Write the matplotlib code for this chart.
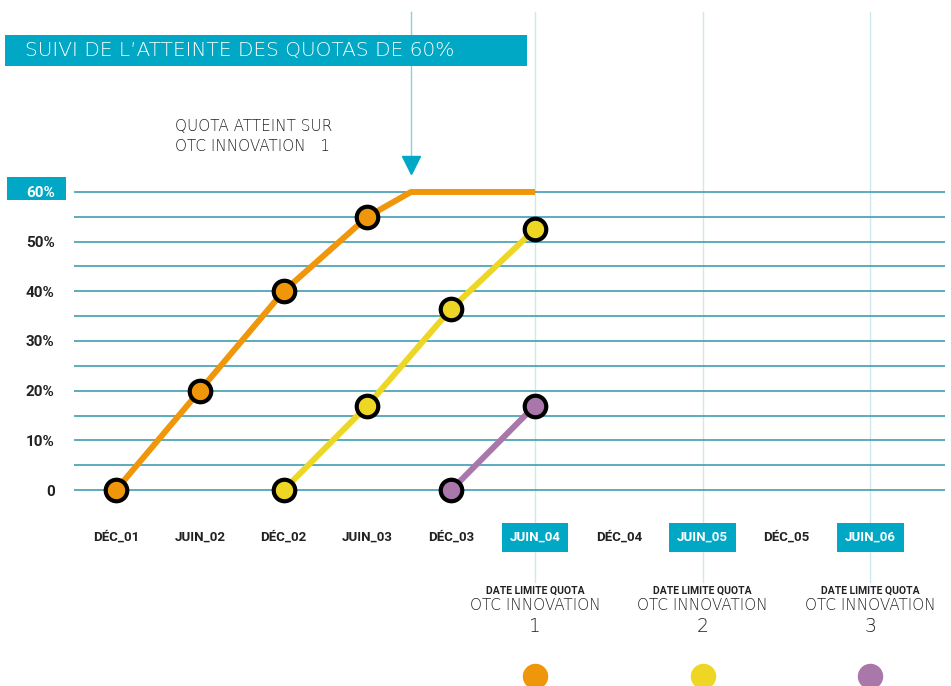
import matplotlib.pyplot as plt
import matplotlib.transforms as mtransforms
from matplotlib.patches import Rectangle

# periods on the x axis
periodes = ["DÉC_01", "JUIN_02", "DÉC_02", "JUIN_03", "DÉC_03",
            "JUIN_04", "DÉC_04", "JUIN_05", "DÉC_05", "JUIN_06"]
echeances = ["JUIN_04", "JUIN_05", "JUIN_06"]
numeros = ["1", "2", "3"]

# OTC innovation 1: measured points, then quota reached and held
otc1_x = [0, 1, 2, 3, 3.52, 5]
otc1_y = [0, 20, 40, 55, 60, 60]
otc1_mesures = 4

otc2_x = [2, 3, 4, 5]
otc2_y = [0, 17, 36.5, 52.5]

otc3_x = [4, 5]
otc3_y = [0, 17]

y_ticks = [0, 10, 20, 30, 40, 50, 60]
y_labels = ["0", "10%", "20%", "30%", "40%", "50%", "60%"]

couleurs = ["#f0960a", "#eed724", "#a977aa"]
TEAL = "#00a8c6"
GRID = "#3f9db3"
VLINE = "#cfe7ef"

W, H = 951, 686
fig = plt.figure(figsize=(W / 100, H / 100), dpi=100)


def fx(px):
    return px / W


def fy(py):
    return 1 - py / H


# axes area: gridlines from x=74 px, 0% at 490 px, 60% at 192 px
ax_top, ax_bot = 187, 495
ax = fig.add_axes([fx(74), fy(ax_bot), fx(945) - fx(74), (ax_bot - ax_top) / H])
ax.set_xlim(-0.501, 9.893)
ax.set_ylim(-1, 61)
for s in ax.spines.values():
    s.set_visible(False)


def axfrac(py):
    return (ax_bot - py) / (ax_bot - ax_top)


def boite(x0, y0, x1, y1, color, z=0.2):
    ax.add_patch(Rectangle((fx(x0), fy(y1)), fx(x1) - fx(x0), fy(y0) - fy(y1),
                           transform=fig.transFigure, fc=color, ec="none",
                           clip_on=False, zorder=z))


ax.set_yticks(y_ticks)
ax.set_yticks(range(5, 60, 10), minor=True)
ax.grid(axis="y", which="both", color=GRID, lw=1.2)
ax.tick_params(which="both", length=0)
ax.tick_params(axis="y", pad=14)
ax.tick_params(axis="x", pad=26)
ax.set_yticklabels(y_labels, fontfamily="Roboto", fontweight="bold", fontsize=11, color="#222222")
ax.get_yticklabels()[-1].set_color("white")
boite(7, 177, 66, 200, TEAL)

ax.set_xticks(range(len(periodes)))
ax.set_xticklabels(periodes, fontfamily="Roboto", fontweight="bold", fontsize=9.5, color="#222222")
for lab in ax.get_xticklabels():
    if lab.get_text() in echeances:
        lab.set_color("white")
        lab.set_bbox(dict(boxstyle="square,pad=0.6", fc=TEAL, ec="none"))

bx = mtransforms.blended_transform_factory(ax.transData, fig.transFigure)
bxa = mtransforms.blended_transform_factory(ax.transData, ax.transAxes)

# deadline columns
for k, ech in enumerate(echeances):
    x = periodes.index(ech)
    ax.axvline(x, ymin=axfrac(582), ymax=axfrac(12), color=VLINE, lw=1, clip_on=False, zorder=0.3)
    ax.text(x, fy(591), "DATE LIMITE QUOTA", transform=bx, ha="center", va="center",
            fontfamily="Roboto", fontweight="bold", fontsize=7.5, color="#222222")
    ax.text(x, fy(606), "OTC INNOVATION", transform=bx, ha="center", va="center",
            fontfamily="DejaVu Sans", fontweight="light", fontsize=11, color="#222222")
    ax.text(x, fy(626), numeros[k], transform=bx, ha="center", va="center",
            fontfamily="DejaVu Sans", fontweight="light", fontsize=13.5, color="#222222")
    ax.scatter([x], [fy(676)], s=300, color=couleurs[k], transform=bx, clip_on=False, zorder=5)

# arrow where quota is reached
ax.axvline(otc1_x[otc1_mesures], ymin=axfrac(160), ymax=axfrac(12), color="#8ccde0", lw=1,
           clip_on=False, zorder=0.3)
ax.plot([otc1_x[otc1_mesures]], [axfrac(165)], marker="v", ms=13, color=TEAL,
        transform=bxa, clip_on=False, zorder=5)

# series
series = [(otc1_x, otc1_y, otc1_mesures), (otc2_x, otc2_y, len(otc2_x)), (otc3_x, otc3_y, len(otc3_x))]
for (xs, ys, n), c in zip(series, couleurs):
    ax.plot(xs, ys, color=c, lw=4.3, solid_capstyle="butt", clip_on=False, zorder=3)
    ax.plot(xs[:n], ys[:n], "o", ms=15.5, mfc=c, mec="black", mew=3, clip_on=False, zorder=4)

# title banner (covers the arrow line)
boite(5, 35, 527, 66, TEAL, z=0.4)
ax.text(fx(25), fy(50), "SUIVI DE L’ATTEINTE DES QUOTAS DE 60%", color="white",
        transform=fig.transFigure, fontfamily="DejaVu Sans", fontweight="light",
        fontsize=14.5, va="center", ha="left", zorder=6)

fig.text(fx(175), fy(119), "QUOTA ATTEINT SUR\nOTC INNOVATION   1", color="#222222",
         fontfamily="DejaVu Sans", fontweight="light", fontsize=11, va="top", ha="left",
         linespacing=1.45)

fig.savefig("out.png", dpi=100)
